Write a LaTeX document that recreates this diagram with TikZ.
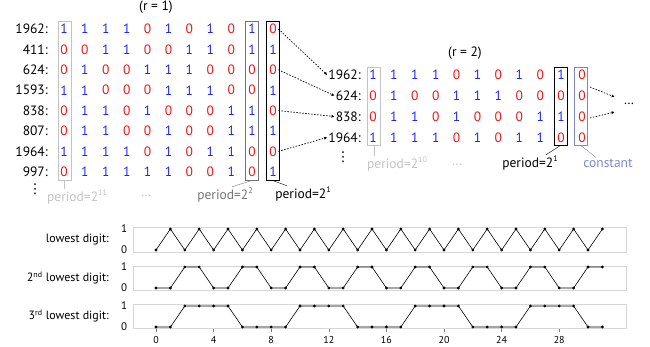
\documentclass[tikz,border=0pt]{standalone}
\usepackage{fontspec}
\setmainfont{PT Sans}
\newfontfamily\symfont{DejaVu Sans}
\usetikzlibrary{arrows.meta,calc}
\definecolor{bitone}{RGB}{30,40,235}
\definecolor{bitzero}{RGB}{240,20,20}
\definecolor{faint}{RGB}{195,195,195}
\definecolor{midgray}{RGB}{115,115,115}
\definecolor{constc}{RGB}{125,135,200}
\definecolor{framec}{RGB}{215,215,215}
\newcommand\supnum[1]{\raisebox{0.42em}{\fontsize{8}{8}\selectfont #1}}
\tikzset{
  bit1/.style={text=bitone},
  bit0/.style={text=bitzero},
  digit/.style={inner sep=1.5pt},
  rowlab/.style={anchor=east,inner sep=1pt},
  colbox/.style={draw,line width=0.9pt,minimum width=13,inner sep=0},
  note/.style={inner sep=1pt},
  hop/.style={dash pattern=on 1.5pt off 1.5pt,line width=0.7pt,-{Latex[length=3pt,width=3pt]}},
  wave/.style={line width=0.6pt,mark=*,mark size=1.1pt},
  plotlab/.style={anchor=east,inner sep=1pt,font=\fontsize{12}{14}\selectfont},
  ticklab/.style={inner sep=1pt,font=\fontsize{10}{12}\selectfont}
}
\begin{document}
\begin{tikzpicture}[x=1pt,y=-1pt,font=\fontsize{13.5}{16}\selectfont]
\useasboundingbox (0,0) rectangle (650,347);
% first round
\node (r1) at (156,7) {(r = 1)};
\foreach \n [count=\r] in {1962,411,624,1593,838,807,1964,997}
  \node[rowlab] (L\r) at (49,{29+20.4*(\r-1)}) {\n:};
\foreach \bits [count=\r] in {{1,1,1,1,0,1,0,1,0,1,0},{0,0,1,1,0,0,1,1,0,1,1},
    {0,1,0,0,1,1,1,0,0,0,0},{1,1,0,0,0,1,1,1,0,0,1},{0,1,1,0,1,0,0,0,1,1,0},
    {0,1,1,0,0,1,0,0,1,1,1},{1,1,1,1,0,1,0,1,1,0,0},{0,1,1,1,1,1,0,0,1,0,1}}
  \foreach \b [count=\c] in \bits
    \node[digit,bit\b] (L\r-\c) at ({64+20.9*(\c-1)},{29+20.4*(\r-1)}) {\b};
\node[colbox,draw=faint,minimum height=159] (Lb1) at (64.5,100.5) {};
\node[colbox,draw=midgray,minimum height=159] (Lb10) at (252,100.5) {};
\node[colbox,draw=black,minimum height=159] (Lb11) at (272.5,100.5) {};
\node[inner sep=0] (Lvd) at (35,189) {\symfont ⋮};
\node[note,text=faint] (Lp11) at (77,197) {period=2\supnum{11}};
\node[note,text=faint] (Ldots) at (146,196) {\dots};
\node[note,text=midgray] (Lp2) at (225,195) {period=2\supnum{2}};
\node[note] (Lp1) at (303,194) {period=2\supnum{1}};
\draw[faint] (Lb1.south) -- (Lb1.south |- Lp11.north);
\draw[midgray] (Lb10.south) -- ($(Lp2.north)+(7,0)$);
\draw (Lb11.south) -- ($(Lp1.north)+(-16,0)$);
% second round
\node (r2) at (465,53) {(r = 2)};
\foreach \n [count=\r] in {1962,624,838,1964}
  \node[rowlab] (R\r) at (362,{75+20.8*(\r-1)}) {\n:};
\foreach \bits [count=\r] in {{1,1,1,1,0,1,0,1,0,1,0},{0,1,0,0,1,1,1,0,0,0,0},
    {0,1,1,0,1,0,0,0,1,1,0},{1,1,1,1,0,1,0,1,1,0,0}}
  \foreach \b [count=\c] in \bits
    \node[digit,bit\b] (R\r-\c) at ({373+20.9*(\c-1)},{75+20.8*(\r-1)}) {\b};
\node[colbox,draw=faint,minimum height=78] (Rb1) at (374,106) {};
\node[colbox,draw=black,minimum height=78] (Rb10) at (560.5,106) {};
\node[colbox,draw=constc,minimum height=78] (Rb11) at (581,106) {};
\node[inner sep=0] (Rvd) at (343,157) {\symfont ⋮};
\node[note,text=faint] (Rp10) at (397,164) {period=2\supnum{10}};
\node[note,text=faint] (Rdots) at (457,165) {\dots};
\node[note] (Rp1) at (530,163) {period=2\supnum{1}};
\node[note,text=constc] (Rconst) at (608,163) {constant};
\draw[faint] (Rb1.south) -- (Rb1.south |- Rp10.north);
\draw (Rb10.south) -- ($(Rp1.north)+(16,0)$);
\draw[constc] (Rb11.south) -- ($(Rconst.north)+(-12,0)$);
% carried rows
\foreach \a/\b in {1/1,3/2,5/3,7/4}
  \draw[hop] (L\a-11.east) -- (R\b.west);
\node[note] (more) at (629,104) {\dots};
\draw[hop] ($(Rb11.east)+(2,-19)$) -- ($(more.west)+(-8,-7)$);
\draw[hop] ($(Rb11.east)+(2,12)$) -- ($(more.west)+(-8,8)$);
% digit plots
\draw[framec,line width=0.9pt] (133,227) rectangle (626,252);
\draw[framec,line width=0.9pt] (133,266) rectangle (626,290);
\draw[framec,line width=0.9pt] (133,304) rectangle (626,328);
\draw[wave] plot[samples at={0,...,31}] ({156+14.4*\x},{250-21*mod(\x,2)});
\draw[wave] plot[samples at={0,...,31}] ({156+14.4*\x},{288-21*mod(floor(\x/2),2)});
\draw[wave] plot[samples at={0,...,31}] ({156+14.4*\x},{327-21*mod(floor((\x+2)/4),2)});
\node[plotlab] (d1) at (110,240) {lowest digit:};
\node[plotlab] (d2) at (110,278) {2\textsuperscript{nd} lowest digit:};
\node[plotlab] (d3) at (110,316) {3\textsuperscript{rd} lowest digit:};
\foreach \y/\v in {229/1,250/0,267/1,288/0,306/1,327/0}
  \node[ticklab,font=\fontsize{11}{13}\selectfont] (yt\y) at (124,\y) {\v};
\foreach \t in {0,4,...,28} {
  \draw[gray] ({156+14.4*\t},329) -- ({156+14.4*\t},332);
  \node[ticklab] (xt\t) at ({156+14.4*\t},340) {\t};
}
\end{tikzpicture}
\end{document}
